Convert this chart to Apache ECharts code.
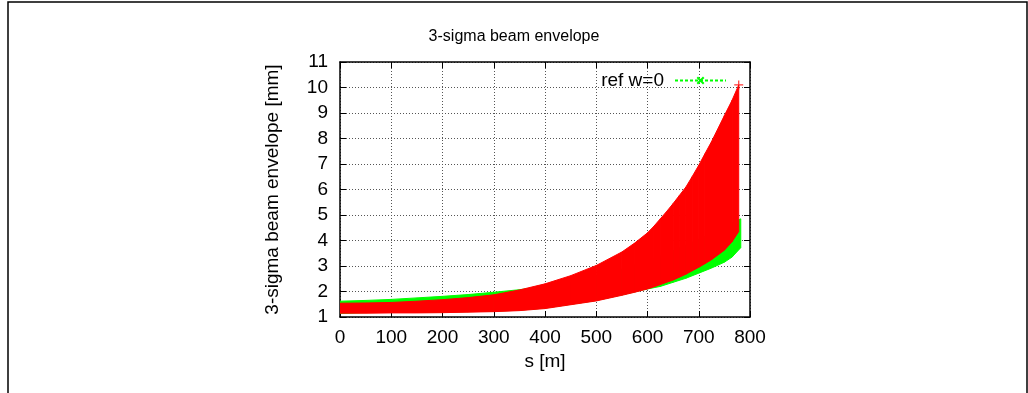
<!DOCTYPE html>
<html>
<head>
<meta charset="utf-8">
<title>3-sigma beam envelope</title>
<script src="https://cdn.jsdelivr.net/npm/echarts@6/dist/echarts.min.js"></script>
<style>
    html, body { margin: 0; padding: 0; background: #fff; }
    #chart { width: 1028px; height: 393px; }
</style>
</head>
<body>
<div id="chart"></div>
<script>
    // band edges, s in metres, envelope in mm
    var sRed = [0, 50, 100, 150, 200, 250, 300, 350, 400, 450, 500, 550, 575, 600, 612, 625, 637, 650, 662, 675, 687, 700, 712, 725, 750, 765, 778];
    var redUpper = [1.54, 1.55, 1.57, 1.62, 1.68, 1.76, 1.87, 2.06, 2.3, 2.62, 3.02, 3.55, 3.9, 4.3, 4.55, 4.85, 5.13, 5.45, 5.76, 6.1, 6.5, 6.95, 7.4, 7.88, 8.9, 9.5, 10.1];
    var redLower = [1.15, 1.15, 1.16, 1.16, 1.17, 1.19, 1.21, 1.25, 1.33, 1.48, 1.63, 1.85, 1.97, 2.1, 2.18, 2.27, 2.36, 2.45, 2.56, 2.68, 2.81, 2.95, 3.09, 3.25, 3.62, 3.95, 4.35];

    var sRef = [0, 50, 100, 150, 200, 250, 300, 350, 400, 450, 500, 550, 600, 625, 650, 675, 700, 725, 750, 765, 782];
    var refUpper = [1.62, 1.65, 1.69, 1.75, 1.81, 1.88, 1.97, 2.07, 2.2, 2.38, 2.6, 2.88, 3.2, 3.4, 3.6, 3.82, 4.05, 4.3, 4.55, 4.7, 4.85];
    var refLower = [1.14, 1.17, 1.18, 1.18, 1.19, 1.21, 1.23, 1.27, 1.35, 1.5, 1.65, 1.87, 2.1, 2.2, 2.36, 2.52, 2.72, 2.92, 3.15, 3.35, 3.72];

    var xMin = 0, xMax = 800, xStep = 100;
    var yMin = 1, yMax = 11, yStep = 1;

    var FONT = '"Liberation Sans", Arial, sans-serif';
    var RED = '#ff0000';
    var GREEN = '#00ff00';
    var PLUS = 'path://M5,0L5,10M0,5L10,5';
    var CROSS = 'path://M0,0L10,10M10,0L0,10';

    // one quad per pair of neighbouring samples
    function bandItems(s, lo, hi) {
        var out = [];
        for (var i = 0; i < s.length - 1; i++) {
            out.push([s[i], lo[i], hi[i], s[i + 1], lo[i + 1], hi[i + 1]]);
        }
        return out;
    }

    function bandRenderer(color) {
        return function (params, api) {
            var a = api.coord([api.value(0), api.value(2)]);
            var b = api.coord([api.value(3), api.value(5)]);
            var c = api.coord([api.value(3), api.value(4)]);
            var d = api.coord([api.value(0), api.value(1)]);
            return {
                type: 'polygon',
                shape: { points: [a, b, c, d] },
                style: { fill: color, stroke: color, lineWidth: 1 }
            };
        };
    }

    var axisLine = { show: true, onZero: false, lineStyle: { color: '#000', width: 1.5 } };
    var axisTick = { show: true, inside: true, length: 6, lineStyle: { color: '#000', width: 1 } };
    var gridLine = { show: true, lineStyle: { color: '#555', width: 1, type: [1, 2] } };
    var labelStyle = { color: '#000', fontFamily: FONT, fontSize: 19 };

    var option = {
        animation: false,
        backgroundColor: '#fff',
        title: {
            text: '3-sigma beam envelope',
            left: 'center',
            top: 24,
            textStyle: { color: '#000', fontFamily: FONT, fontSize: 16, fontWeight: 'normal' }
        },
        legend: {
            data: ['ref w=0'],
            right: 296,
            top: 66,
            align: 'right',
            itemWidth: 51,
            itemHeight: 8,
            textStyle: { color: '#000', fontFamily: FONT, fontSize: 19, padding: [0, 6, 0, 0] }
        },
        grid: { left: 340, right: 278, top: 62, bottom: 76, containLabel: false },
        xAxis: [{
            type: 'value', min: xMin, max: xMax, interval: xStep,
            name: 's [m]', nameLocation: 'middle', nameGap: 23,
            nameTextStyle: labelStyle,
            axisLine: axisLine, axisTick: axisTick, splitLine: gridLine,
            axisLabel: { color: '#000', fontFamily: FONT, fontSize: 19, margin: 11 }
        }, {
            type: 'value', position: 'top', min: xMin, max: xMax, interval: xStep,
            axisLine: axisLine, axisTick: axisTick, splitLine: { show: false },
            axisLabel: { show: false }
        }],
        yAxis: [{
            type: 'value', min: yMin, max: yMax, interval: yStep,
            name: '3-sigma beam envelope [mm]', nameLocation: 'middle', nameGap: 58,
            nameTextStyle: labelStyle,
            axisLine: axisLine, axisTick: axisTick, splitLine: gridLine,
            axisLabel: { color: '#000', fontFamily: FONT, fontSize: 19, margin: 12 }
        }, {
            type: 'value', position: 'right', min: yMin, max: yMax, interval: yStep,
            axisLine: axisLine, axisTick: axisTick, splitLine: { show: false },
            axisLabel: { show: false }
        }],
        series: [
            {
                name: 'ref band',
                type: 'custom',
                renderItem: bandRenderer(GREEN),
                encode: { x: [0, 3], y: [1, 2, 4, 5] },
                data: bandItems(sRef, refLower, refUpper),
                clip: true,
                z: 2
            },
            {
                name: 'ref w=0',
                type: 'line',
                data: [],
                symbol: CROSS,
                symbolSize: 5,
                itemStyle: { color: GREEN, borderColor: GREEN, borderWidth: 1 },
                lineStyle: { color: GREEN, width: 1, type: [3, 2] }
            },
            {
                name: 'envelope',
                type: 'custom',
                renderItem: bandRenderer(RED),
                encode: { x: [0, 3], y: [1, 2, 4, 5] },
                data: bandItems(sRed, redLower, redUpper),
                clip: true,
                z: 3
            },
            {
                // the last '+' of the envelope stands out at the peak
                name: 'envelope peak',
                type: 'scatter',
                data: [[sRed[sRed.length - 1], redUpper[redUpper.length - 1]]],
                symbol: PLUS,
                symbolSize: 9,
                itemStyle: { color: 'none', borderColor: RED, borderWidth: 1.2 },
                z: 4
            }
        ],
        graphic: [{
            type: 'polyline',
            shape: { points: [[8, 393], [8, 2], [1027, 2], [1027, 393]] },
            style: { stroke: '#000', lineWidth: 1.5, fill: null },
            silent: true
        }]
    };

    echarts.init(document.getElementById('chart')).setOption(option);
</script>
</body>
</html>
